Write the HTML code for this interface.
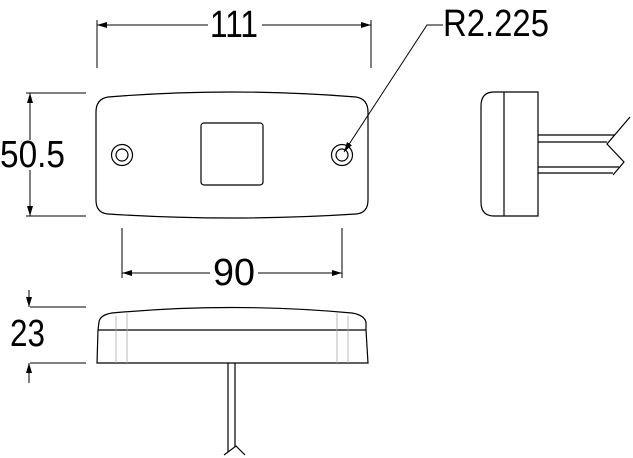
<!DOCTYPE html>
<html><head><style>body{margin:0;background:#fff}svg{display:block}</style></head>
<body>
<svg width="633" height="458" viewBox="0 0 633 458" xmlns="http://www.w3.org/2000/svg">
<defs>
<marker id="a" markerWidth="10" markerHeight="6" refX="10" refY="3" orient="auto" markerUnits="userSpaceOnUse"><path d="M0,0 L10,3 L0,6 z" fill="#000"/></marker>
</defs>
<g fill="none" stroke="#000" stroke-width="1.2">
<!-- front view -->
<path d="M108,97 Q232,87 356,97 Q368,99 368,112 L368,200 Q368,213 356,214 Q232,222 108,214 Q96,213 96,200 L96,112 Q96,99 108,97 Z"/>
<rect x="201" y="123" width="62" height="62" rx="3"/>
<circle cx="122" cy="155" r="10.5"/><circle cx="122" cy="155" r="6"/>
<circle cx="342" cy="155" r="10.5"/><circle cx="342" cy="155" r="6"/>
<!-- dims -->
<line x1="97" y1="20" x2="97" y2="68" stroke-width="1"/>
<line x1="371" y1="20" x2="371" y2="68" stroke-width="1"/>
<line x1="208" y1="25" x2="97" y2="25" stroke-width="1" marker-end="url(#a)"/>
<line x1="262" y1="25" x2="371" y2="25" stroke-width="1" marker-end="url(#a)"/>
<line x1="26" y1="93" x2="86" y2="93" stroke-width="1"/>
<line x1="26" y1="216" x2="86" y2="216" stroke-width="1"/>
<line x1="30" y1="140" x2="30" y2="93" stroke-width="1" marker-end="url(#a)"/>
<line x1="30" y1="170" x2="30" y2="216" stroke-width="1" marker-end="url(#a)"/>
<line x1="122" y1="228" x2="122" y2="278" stroke-width="1"/>
<line x1="342" y1="228" x2="342" y2="278" stroke-width="1"/>
<line x1="210" y1="273" x2="122" y2="273" stroke-width="1" marker-end="url(#a)"/>
<line x1="258" y1="273" x2="342" y2="273" stroke-width="1" marker-end="url(#a)"/>
<polyline points="443,25 427,25 344,152" stroke-width="1" marker-end="url(#a)"/>
<line x1="30" y1="307" x2="86" y2="307" stroke-width="1"/>
<line x1="30" y1="363" x2="86" y2="363" stroke-width="1"/>
<line x1="29" y1="290" x2="29" y2="307" stroke-width="1" marker-end="url(#a)"/>
<line x1="29" y1="383" x2="29" y2="363" stroke-width="1" marker-end="url(#a)"/>
<!-- bottom side view -->
<path d="M98,330 L99,322 Q100,315 112,313 Q232,302 352,313 Q364,315 366,322 L366,330"/>
<line x1="98" y1="330" x2="366" y2="330"/>
<path d="M98,330 L97,363 L368,363 L366,330"/>
<g stroke="#aaa" stroke-width="0.8"><line x1="116" y1="316" x2="116" y2="363"/><line x1="127" y1="313" x2="127" y2="363"/><line x1="337" y1="313" x2="337" y2="363"/><line x1="348" y1="316" x2="348" y2="363"/></g>
<line x1="228" y1="363" x2="228" y2="452"/><line x1="235" y1="363" x2="235" y2="447"/>
<polyline points="224,455 236,446 245,455"/>
<!-- right side view -->
<path d="M538,92 L494,92 Q481,92 481,106 L481,202 Q481,216 494,216 L538,216 Z"/>
<line x1="504" y1="92" x2="504" y2="216"/>
<line x1="538" y1="135" x2="615" y2="135"/><line x1="538" y1="142" x2="607" y2="142"/>
<line x1="538" y1="167" x2="619" y2="167"/><line x1="538" y1="173" x2="613" y2="173"/>
<polyline points="630,117 607,144 624,162 613,175"/>
</g>
<g font-family="Liberation Sans, sans-serif" font-size="38" fill="#000">
<text x="210" y="37" textLength="48" lengthAdjust="spacingAndGlyphs">111</text>
<text x="443" y="36" textLength="106" lengthAdjust="spacingAndGlyphs">R2.225</text>
<text x="0" y="167" textLength="65" lengthAdjust="spacingAndGlyphs">50.5</text>
<text x="213" y="285" textLength="42" lengthAdjust="spacingAndGlyphs">90</text>
<text x="10" y="346" textLength="35" lengthAdjust="spacingAndGlyphs">23</text>
</g>
</svg>
</body></html>
